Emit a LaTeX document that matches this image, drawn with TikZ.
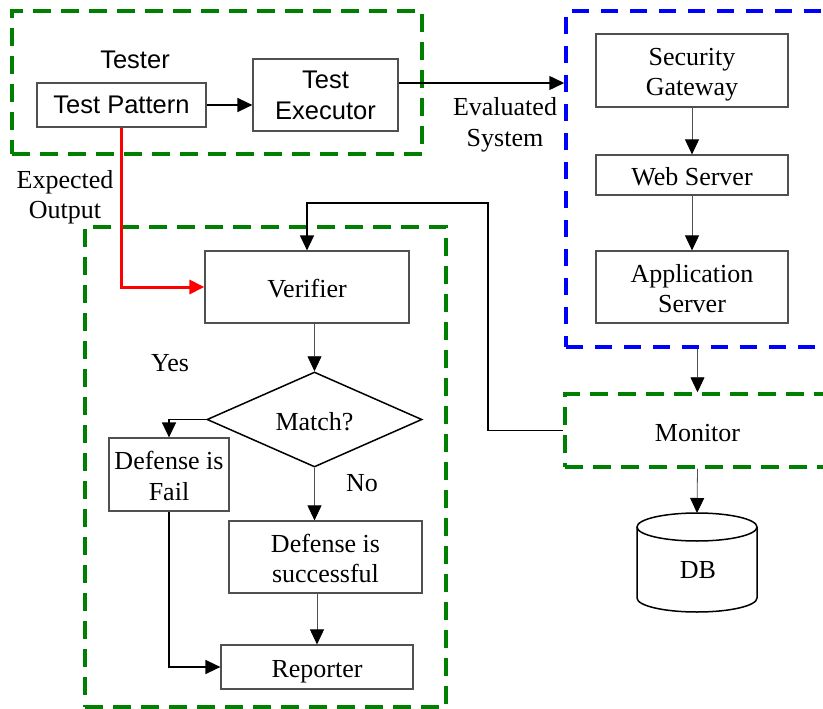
\documentclass[tikz,border=0pt]{standalone}
\usepackage{fontspec}
\setmainfont{Liberation Serif}
\newfontfamily\sansf{Liberation Sans}
\usetikzlibrary{arrows.meta,shapes.geometric}

\definecolor{grnbox}{RGB}{0,128,0}
\definecolor{bluebox}{RGB}{0,0,255}
\definecolor{edge}{RGB}{80,80,80}

% box text with a fixed ascent on the first line and descent on the last one
\newcommand\celltext[1]{\rule{0pt}{26pt}#1\rule[-5pt]{0pt}{5pt}}

\tikzset{
  serif/.style={font=\fontsize{26}{30.5}\selectfont},
  sans/.style={font=\sansf\fontsize{25.5}{31}\selectfont},
  blk/.style={draw=edge, line width=1.2pt, inner sep=0pt, align=center, serif},
  sblk/.style={draw=edge, line width=1.2pt, inner sep=0pt, align=center, sans},
  grpgreen/.style={draw=grnbox, line width=3.5pt, dash pattern=on 18pt off 10pt, inner sep=0pt},
  grpblue/.style={draw=bluebox, line width=3.5pt, dash pattern=on 17pt off 12pt, inner sep=0pt},
  tip/.style={-{Triangle[length=15pt,width=14pt]}},
  conn/.style={tip, line width=1.5pt, black},
  thinconn/.style={line width=0.8pt, draw=edge, -{Triangle[length=15pt,width=14pt,fill=black,color=black]}},
  lbl/.style={align=center, serif},
}

\begin{document}
\begin{tikzpicture}[x=1pt, y=-1pt]
\useasboundingbox (0,0) rectangle (823,709);
\clip (0,0) rectangle (823,709);
\fill[white] (0,0) rectangle (823,709);

% group frames
\node[grpgreen, minimum width=410pt, minimum height=143pt] (tester) at (217,82.5) {};
\node[grpblue, minimum width=264pt, minimum height=336pt] (sys) at (698,179) {};
\node[grpgreen, minimum width=361pt, minimum height=480pt] (checker) at (265.5,467) {};
\node[grpgreen, minimum width=265pt, minimum height=73pt, serif] (mon) at (697.5,430.5) {\celltext{Monitor}};

% tester
\node[sans] (testerlbl) at (135,60) {Tester};
\node[sblk, minimum width=169pt, minimum height=44pt] (tp) at (121.5,105) {Test Pattern};
\node[sblk, minimum width=145pt, minimum height=72pt] (te) at (325.5,95) {Test\\Executor};

% evaluated system
\node[blk, minimum width=192pt, minimum height=73pt] (sg) at (692,70.5) {\celltext{Security\\Gateway}};
\node[blk, minimum width=192pt, minimum height=40pt] (ws) at (692,175) {\celltext{Web Server}};
\node[blk, minimum width=192pt, minimum height=72pt] (as) at (692,287) {\celltext{Application\\Server}};

% verification flow
\node[blk, minimum width=204pt, minimum height=72pt] (ver) at (307,287) {\celltext{Verifier}};
\node[diamond, draw=black, line width=1.5pt, aspect=2.26, inner sep=0pt,
      minimum width=215pt, minimum height=95pt, serif] (dm) at (314.5,419.5) {\celltext{Match?}};
\node[blk, minimum width=120pt, minimum height=73pt] (fail) at (169,474.5) {\celltext{Defense is\\Fail}};
\node[blk, minimum width=193pt, minimum height=72pt] (succ) at (325.5,557) {\celltext{Defense is\\successful}};
\node[blk, minimum width=192pt, minimum height=44pt] (rep) at (317,667) {\celltext{Reporter}};

% database
\draw[line width=1.5pt, fill=white] (637,527) -- (637,598) arc[start angle=180, end angle=360, x radius=60pt, y radius=14pt] -- (757,527);
\draw[line width=1.5pt] (697,527) ellipse [x radius=60pt, y radius=14pt];
\coordinate (dbtop) at (697,513);
\node[serif] (db) at (698,570) {DB};

% labels
\node[lbl] (explbl) at (65,197) {Expected\\Output};
\node[lbl] (evallbl) at (505,125) {Evaluated\\System};
\node[serif] (yes) at (170,363) {Yes};
\node[serif] (no) at (362,483) {No};

% connectors
\draw[conn] (tp.east) -- (tp.east -| te.west);
\draw[conn] ([yshift=12pt]te.east) coordinate (teout) -- (teout -| sys.west);
\draw[thinconn] (sg.south) -- (ws.north);
\draw[thinconn] (ws.south) -- (as.north);
\draw[thinconn] (mon.north |- sys.south) -- (mon.north);
\draw[thinconn] (mon.south) -- (dbtop);

\draw[tip, line width=3pt, red] (tp.south) |- (ver.west);

\coordinate (fb) at (488,203);
\draw[conn] (mon.west) -| (fb) -| (ver.north);

\draw[thinconn] (dm.north |- ver.south) -- (dm.north);
\draw[conn] (dm.west) -| (fail.north);
\draw[thinconn] (dm.south) -- (dm.south |- succ.north);
\draw[thinconn] (rep.north |- succ.south) -- (rep.north);
\draw[conn] (fail.south) |- (rep.west);
\end{tikzpicture}
\end{document}
